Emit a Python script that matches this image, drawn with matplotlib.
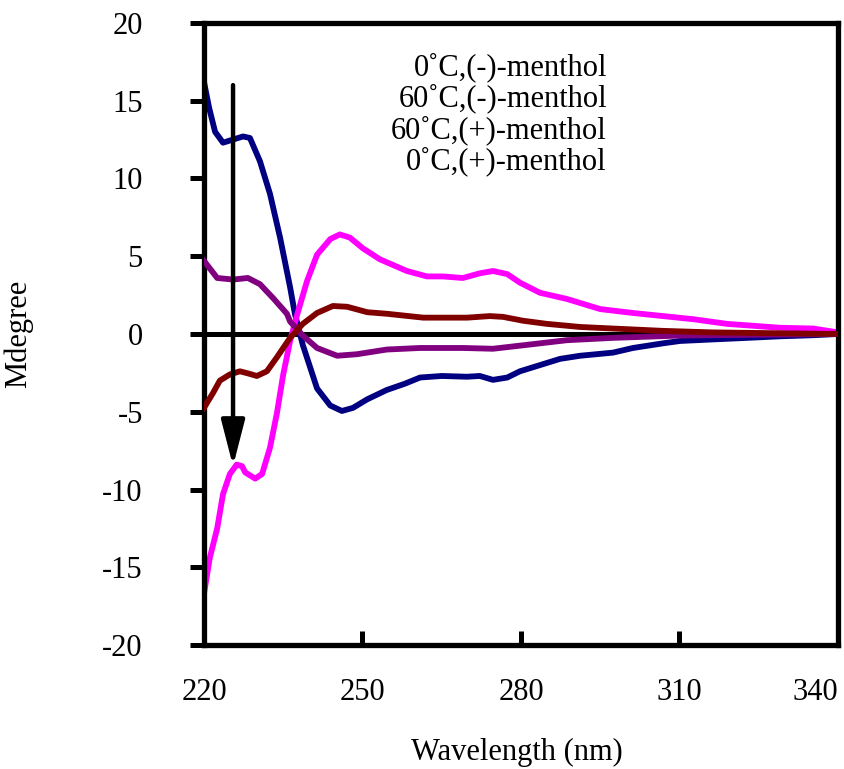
import matplotlib.pyplot as plt

plt.rcParams['font.family'] = ['Liberation Serif', 'DejaVu Serif']
plt.rcParams['axes.unicode_minus'] = False

# 0 C, (-)-menthol
blue_x = [220.0, 221.0, 222.1, 223.6, 225.5, 227.4, 228.7, 230.6, 232.5, 234.4, 236.3, 237.2,
          238.7, 241.4, 243.9, 246.1, 248.2, 250.9, 254.6, 258.0, 260.9, 265.0, 269.8, 272.2,
          274.7, 277.4, 279.8, 283.6, 287.4, 291.2, 297.4, 301.2, 306.9, 310.1, 316.3, 322.8,
          329.0, 335.3, 340.0]
blue_y = [16.2, 14.5, 13.0, 12.3, 12.5, 12.7, 12.6, 11.1, 9.0, 6.2, 3.0, 1.3,
          -0.7, -3.5, -4.6, -4.95, -4.75, -4.2, -3.6, -3.2, -2.8, -2.7, -2.75, -2.7,
          -2.95, -2.8, -2.4, -2.0, -1.6, -1.4, -1.2, -0.9, -0.6, -0.45, -0.35, -0.25,
          -0.15, -0.08, 0.0]

# 60 C, (-)-menthol
purple_x = [220.0, 222.5, 225.5, 228.3, 230.6, 233.1, 235.7, 236.3, 238.7, 241.4, 245.2, 249.0,
            254.6, 260.9, 269.0, 274.7, 281.1, 288.7, 297.4, 310.1, 340.0]
purple_y = [4.7, 3.6, 3.5, 3.6, 3.2, 2.3, 1.3, 0.8, -0.1, -0.9, -1.4, -1.3,
            -1.0, -0.9, -0.9, -0.95, -0.7, -0.4, -0.25, -0.1, 0.0]

# 60 C, (+)-menthol
red_x = [220.0, 221.7, 223.0, 224.9, 226.8, 228.5, 230.0, 231.9, 233.8, 236.3, 238.7, 241.4,
         244.4, 247.1, 250.9, 254.6, 261.5, 269.8, 274.1, 276.6, 280.4, 284.9, 291.2, 297.4,
         306.9, 316.3, 340.0]
red_y = [-4.75, -3.8, -3.0, -2.6, -2.4, -2.55, -2.7, -2.4, -1.5, -0.25, 0.65, 1.35,
         1.8, 1.75, 1.4, 1.3, 1.05, 1.05, 1.15, 1.1, 0.85, 0.65, 0.45, 0.35,
         0.2, 0.1, 0.0]

# 0 C, (+)-menthol
pink_x = [220.0, 221.1, 222.5, 223.6, 224.9, 226.2, 227.2, 227.8, 229.7, 231.0, 232.5, 233.8,
          235.0, 236.3, 237.6, 239.5, 241.4, 243.9, 245.7, 247.6, 250.1, 253.3, 258.4, 262.2,
          265.2, 269.0, 272.2, 274.7, 277.4, 279.8, 283.6, 288.7, 295.0, 301.2, 306.9, 312.6,
          319.0, 329.0, 335.3, 340.0]
pink_y = [-16.7, -14.4, -12.5, -10.3, -9.0, -8.4, -8.5, -8.9, -9.3, -9.0, -7.3, -5.1,
          -2.6, -0.45, 1.2, 3.4, 5.1, 6.1, 6.4, 6.2, 5.5, 4.8, 4.05, 3.7,
          3.7, 3.6, 3.9, 4.05, 3.85, 3.3, 2.65, 2.25, 1.6, 1.35, 1.15, 0.95,
          0.65, 0.4, 0.35, 0.1]

labels = ['0˚C,(-)-menthol', '60˚C,(-)-menthol', '60˚C,(+)-menthol', '0˚C,(+)-menthol']
x_ticks = [220, 250, 280, 310, 340]
y_ticks = [-20, -15, -10, -5, 0, 5, 10, 15, 20]

fig = plt.figure(figsize=(8.45, 7.69), dpi=100)
ax = fig.add_axes([0.2414, 0.1612, 0.7503, 0.809])

ax.axhline(0, color='black', lw=3.6, zorder=1)
lw = 4.2
ax.plot(blue_x, blue_y, color='#000080', lw=lw, solid_joinstyle='round', zorder=2)
ax.plot(pink_x, pink_y, color='#FF00FF', lw=lw, solid_joinstyle='round', zorder=2)
ax.plot(purple_x, purple_y, color='#800080', lw=lw, solid_joinstyle='round', zorder=3)
ax.plot(red_x, red_y, color='#800000', lw=lw, solid_joinstyle='round', zorder=4)

ax.annotate('', xy=(225.5, -8.5), xytext=(225.5, 16.0),
            arrowprops=dict(arrowstyle='-|>,head_length=1.4,head_width=0.36',
                            mutation_scale=20, lw=3.2, color='black',
                            shrinkA=0, shrinkB=0), zorder=5)

for i, lab in enumerate(labels):
    ax.text(0.6356, 0.929 - i * 0.0506, lab, transform=ax.transAxes,
            ha='right', va='center', fontsize=22)

ax.set_xlim(220, 340)
ax.set_ylim(-20, 20)
ax.set_xticks(x_ticks[1:-1])
ax.set_yticks(y_ticks)
for s in ax.spines.values():
    s.set_linewidth(3.8)

ax.tick_params(axis='y', direction='out', length=10, width=3.6, pad=34, labelsize=22)
ax.tick_params(axis='x', direction='in', length=10, width=3.6, labelsize=22,
               labelbottom=False)
for v in x_ticks:
    ha = 'right' if v == x_ticks[-1] else 'center'
    ax.text(v, -0.053, str(v), transform=ax.get_xaxis_transform(),
            ha=ha, va='top', fontsize=22)

ax.set_xlabel('Wavelength (nm)', fontsize=22)
ax.xaxis.set_label_coords(0.494, -0.15)
ax.set_ylabel('Mdegree', fontsize=22)
ax.yaxis.set_label_coords(-0.27, 0.5)

fig.savefig('out.png', dpi=100)
